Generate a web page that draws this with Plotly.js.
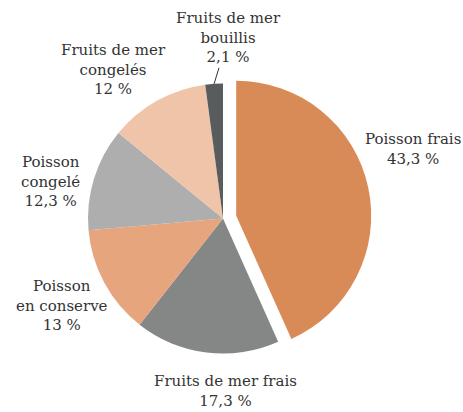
<!DOCTYPE html>
<html>
<head>
<meta charset="utf-8">
<script src="https://cdn.plot.ly/plotly-3.0.1.min.js"></script>
<style>html,body{margin:0;padding:0;background:#fff;}#chart{width:463px;height:412px;}</style>
</head>
<body>
<div id="chart"></div>
<script>
const categories = ["Poisson frais", "Fruits de mer frais", "Poisson en conserve", "Poisson congelé", "Fruits de mer congelés", "Fruits de mer bouillis"];
const displayLabels = ["Poisson frais", "Fruits de mer frais", "Poisson<br>en conserve", "Poisson<br>congelé", "Fruits de mer<br>congelés", "Fruits de mer<br>bouillis"];
const values = [43.3, 17.3, 13, 12.3, 12, 2.1];
const valueLabels = ["43,3 %", "17,3 %", "13 %", "12,3 %", "12 %", "2,1 %"];
const colors = ["#D98B57", "#858786", "#E6A57D", "#ADAEAD", "#EFC4A8", "#585C5C"];
const pulls = [0.1, 0, 0, 0, 0, 0];

// label placement styles (radial factor, angular nudge in degrees, leader line)
const labelRadius = [1.50, 1.28, 1.36, 1.31, 1.37, 1.0];
const labelNudge = [-8, -8, 0, -5, -7, 0];
const leader = [false, false, false, false, false, true];
const FONT = "DejaVu Serif";

const W = 463, H = 412;
const dom = {x: [0.1609, 0.8024], y: [0.1092, 0.8301]};
const cx = (dom.x[0] + dom.x[1]) / 2 * W;
const cy = (1 - (dom.y[0] + dom.y[1]) / 2) * H;
const R = Math.min((dom.x[1] - dom.x[0]) * W, (dom.y[1] - dom.y[0]) * H) / 2 / (1 + Math.max(...pulls));

const total = values.reduce((a, b) => a + b, 0);
let cum = 0;
const annotations = values.map((v, i) => {
  const mid = (cum + v / 2) / total * 360;
  cum += v;
  const th = (mid + labelNudge[i]) * Math.PI / 180;
  const px = cx + labelRadius[i] * R * Math.sin(th);
  const py = cy - labelRadius[i] * R * Math.cos(th);
  const a = {
    xref: "paper", yref: "paper",
    x: px / W, y: 1 - py / H,
    text: displayLabels[i] + "<br>" + valueLabels[i],
    showarrow: leader[i],
    font: {family: FONT, size: 15, color: "#333333"},
    align: "center", xanchor: "center", yanchor: "middle"
  };
  if (leader[i]) {
    a.arrowhead = 0; a.arrowwidth = 1; a.arrowcolor = "#333333";
    a.ax = 14; a.ay = -46; a.standoff = 0;
  }
  return a;
});

Plotly.newPlot("chart", [{
  type: "pie",
  labels: categories,
  values: values,
  textinfo: "none",
  hoverinfo: "none",
  sort: false,
  direction: "clockwise",
  rotation: 0,
  pull: pulls,
  marker: {colors: colors, line: {color: "#ffffff", width: 0}},
  domain: dom,
  showlegend: false
}], {
  width: W, height: H,
  margin: {l: 0, r: 0, t: 0, b: 0},
  font: {family: FONT, size: 15, color: "#333333"},
  paper_bgcolor: "#ffffff",
  showlegend: false,
  annotations: annotations
}, {displayModeBar: false, staticPlot: true});
</script>
</body>
</html>
